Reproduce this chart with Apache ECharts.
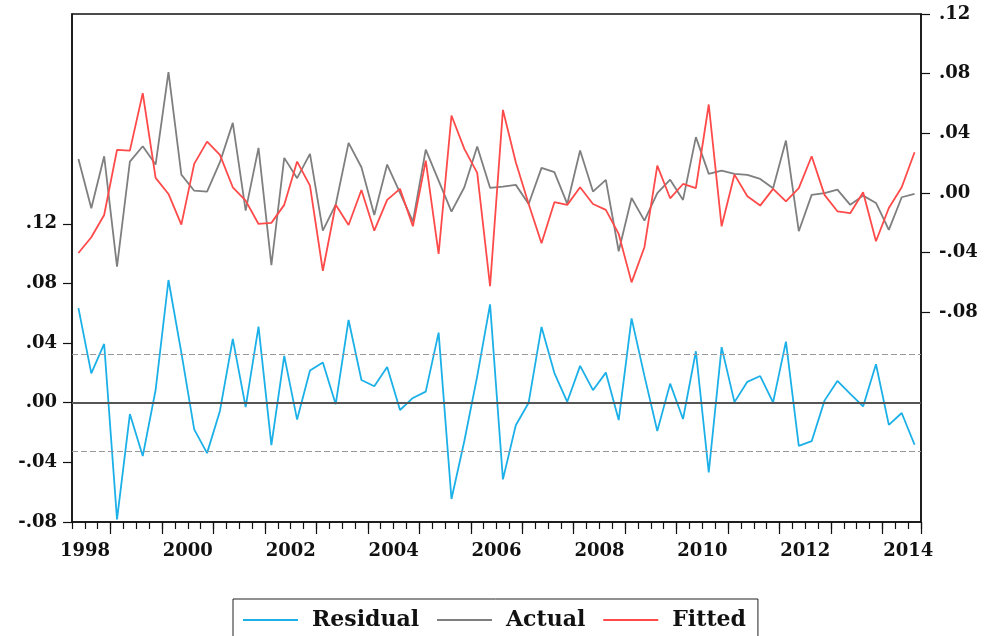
<!DOCTYPE html>
<html>
<head>
<meta charset="utf-8">
<script src="https://cdn.jsdelivr.net/npm/echarts@6/dist/echarts.min.js"></script>
<style>html,body{margin:0;padding:0;background:#fff;}#c{width:985px;height:636px;}</style>
</head>
<body>
<div id="c"></div>
<script>
// Quarterly observations 1998Q2 .. 2014Q3
const firstYear = 1998, firstQ = 2, lastYear = 2014, lastQ = 3;
const quarters = [];
for (let y = firstYear; y <= lastYear; y++) {
  for (let q = 1; q <= 4; q++) {
    if ((y === firstYear && q < firstQ) || (y === lastYear && q > lastQ)) continue;
    quarters.push(y + 'Q' + q);
  }
}

const residual = [0.0634, 0.0197, 0.0394, -0.0783, -0.0076, -0.0358, 0.0085, 0.0823, 0.0336, -0.0179,
  -0.0338, -0.0055, 0.0428, -0.0030, 0.0510, -0.0284, 0.0314, -0.0113, 0.0216, 0.0270,
  -0.0010, 0.0555, 0.0152, 0.0110, 0.0240, -0.0049, 0.0032, 0.0074, 0.0470, -0.0646,
  -0.0257, 0.0177, 0.0660, -0.0514, -0.0151, 0.0000, 0.0508, 0.0199, 0.0006, 0.0247,
  0.0084, 0.0202, -0.0116, 0.0566, 0.0180, -0.0190, 0.0128, -0.0109, 0.0345, -0.0468,
  0.0373, 0.0004, 0.0140, 0.0179, 0.0002, 0.0410, -0.0290, -0.0258, 0.0014, 0.0146,
  0.0060, -0.0025, 0.0258, -0.0149, -0.0069, -0.0282];

const actual = [0.0228, -0.0103, 0.0246, -0.0494, 0.0210, 0.0313, 0.0190, 0.0810, 0.0123, 0.0015,
  0.0009, 0.0206, 0.0470, -0.0119, 0.0302, -0.0485, 0.0235, 0.0099, 0.0262, -0.0253,
  -0.0079, 0.0336, 0.0172, -0.0148, 0.0190, 0.0000, -0.0193, 0.0291, 0.0083, -0.0125,
  0.0038, 0.0311, 0.0034, 0.0042, 0.0054, -0.0074, 0.0168, 0.0139, -0.0074, 0.0284,
  0.0009, 0.0087, -0.0391, -0.0034, -0.0186, -0.0002, 0.0089, -0.0047, 0.0374, 0.0128,
  0.0150, 0.0128, 0.0121, 0.0094, 0.0032, 0.0351, -0.0257, -0.0013, -0.0002, 0.0022,
  -0.0080, -0.0018, -0.0067, -0.0248, -0.0029, -0.0007];

const fitted = [-0.0403, -0.0297, -0.0148, 0.0289, 0.0284, 0.0669, 0.0101, -0.0007, -0.0213, 0.0195,
  0.0344, 0.0255, 0.0038, -0.0052, -0.0208, -0.0201, -0.0080, 0.0210, 0.0049, -0.0522,
  -0.0079, -0.0215, 0.0020, -0.0253, -0.0047, 0.0027, -0.0224, 0.0217, -0.0409, 0.0519,
  0.0295, 0.0134, -0.0626, 0.0557, 0.0206, -0.0074, -0.0338, -0.0062, -0.0080, 0.0038,
  -0.0074, -0.0114, -0.0275, -0.0600, -0.0364, 0.0183, -0.0036, 0.0060, 0.0032, 0.0593,
  -0.0224, 0.0123, -0.0022, -0.0085, 0.0027, -0.0056, 0.0032, 0.0246, -0.0013, -0.0123,
  -0.0136, 0.0005, -0.0324, -0.0101, 0.0038, 0.0273];

const residualSE = 0.0328;
const leftTicks = [-0.08, -0.04, 0.00, 0.04, 0.08, 0.12];
const rightTicks = [-0.08, -0.04, 0.00, 0.04, 0.08, 0.12];

const FONT = "'DejaVu Serif', serif";
const fmt = v => { const s = Math.abs(v) < 1e-9 ? '0.00' : v.toFixed(2); return s.replace('0.', '.'); };

const chart = echarts.init(document.getElementById('c'), null, { renderer: 'canvas' });
chart.setOption({
  animation: false,
  backgroundColor: '#fff',
  grid: { left: 72, right: 64, top: 14, bottom: 114, show: true, borderColor: '#111', borderWidth: 1.5, backgroundColor: 'transparent' },
  legend: {
    left: 233, top: 599,
    padding: [10, 12, 30, 9],
    borderColor: '#222', borderWidth: 1,
    itemWidth: 55, itemHeight: 2, itemGap: 17,
    textStyle: { fontFamily: FONT, fontWeight: 'bold', fontSize: 22, color: '#111', padding: [0, 0, 0, 9] },
    data: ['Residual', 'Actual', 'Fitted']
  },
  xAxis: [
    {
      type: 'category', data: quarters, boundaryGap: true, position: 'bottom',
      axisLine: { show: true, onZero: false, lineStyle: { color: '#111', width: 1.5 } },
      axisTick: { show: true, interval: 0, length: 7, inside: false, lineStyle: { color: '#111', width: 1.2 } },
      axisLabel: {
        interval: (idx, val) => val.endsWith('Q2') && parseInt(val, 10) % 2 === 0,
        formatter: v => v.slice(0, 4),
        fontFamily: FONT, fontWeight: 'bold', fontSize: 18, color: '#111', margin: 20,
        padding: [0, 0, 0, 13]
      },
      splitLine: { show: false }
    },
    {
      type: 'category', data: quarters, boundaryGap: true, position: 'bottom',
      axisLine: { show: false, onZero: false },
      axisTick: { show: true, interval: (idx, val) => val.endsWith('Q1'), length: 12, inside: false, lineStyle: { color: '#111', width: 1.2 } },
      axisLabel: { show: false },
      splitLine: { show: false }
    }
  ],
  yAxis: [
    {
      type: 'value', position: 'left', min: -0.08, max: 0.2607,
      axisLine: { show: true, onZero: false, lineStyle: { color: '#111', width: 1.5 } },
      axisTick: { show: true, length: 9, inside: false, customValues: leftTicks, lineStyle: { color: '#111', width: 1.2 } },
      axisLabel: { customValues: leftTicks, formatter: fmt, fontFamily: FONT, fontWeight: 'bold', fontSize: 18, color: '#111', margin: 15 },
      splitLine: { show: false }
    },
    {
      type: 'value', position: 'right', min: -0.2207, max: 0.12,
      axisLine: { show: true, onZero: false, lineStyle: { color: '#111', width: 1.5 } },
      axisTick: { show: true, length: 9, inside: false, customValues: rightTicks, lineStyle: { color: '#111', width: 1.2 } },
      axisLabel: { customValues: rightTicks, formatter: fmt, fontFamily: FONT, fontWeight: 'bold', fontSize: 18, color: '#111', margin: 18 },
      splitLine: { show: false }
    }
  ],
  series: [
    {
      name: 'Residual', type: 'line', xAxisIndex: 0, yAxisIndex: 0, data: residual,
      symbol: 'none', color: '#1CB0E8', lineStyle: { width: 1.8, color: '#1CB0E8' },
      markLine: {
        silent: true, symbol: 'none', precision: 4, label: { show: false },
        data: [
          { yAxis: 0, lineStyle: { color: '#555', width: 2, type: 'solid' } },
          { yAxis: residualSE, lineStyle: { color: '#999', width: 1, type: [6, 3] } },
          { yAxis: -residualSE, lineStyle: { color: '#999', width: 1, type: [6, 3] } }
        ]
      }
    },
    {
      name: 'Actual', type: 'line', xAxisIndex: 0, yAxisIndex: 1, data: actual,
      symbol: 'none', color: '#7F7F7F', lineStyle: { width: 1.8, color: '#7F7F7F' }
    },
    {
      name: 'Fitted', type: 'line', xAxisIndex: 0, yAxisIndex: 1, data: fitted,
      symbol: 'none', color: '#FF4A4A', lineStyle: { width: 1.8, color: '#FF4A4A' }
    }
  ]
});
</script>
</body>
</html>
